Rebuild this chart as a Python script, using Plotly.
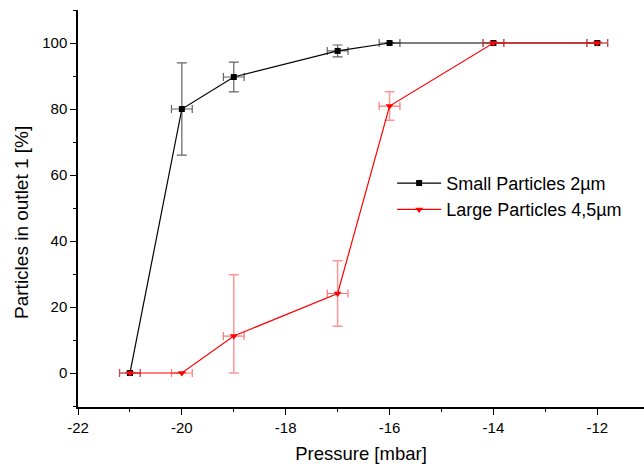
import plotly.graph_objects as go

# pressure in mbar
small_x = [-21, -20, -19, -17, -16, -14, -12]
small_y = [0, 80, 89.7, 97.6, 100, 100, 100]
small_err = [0, 14, 4.5, 1.8, 0, 0, 0]

large_x = [-21, -20, -19, -17, -16, -14, -12]
large_y = [0, 0, 11.2, 24.1, 80.9, 100, 100]
large_err_plus = [0, 0, 18.6, 9.9, 4.3, 0, 0]
large_err_minus = [0, 0, 11.2, 9.9, 4.3, 0, 0]

x_err = 0.2

x_ticks = [-22, -20, -18, -16, -14, -12]
x_ticklabels = ['-22', '-20', '-18', '-16', '-14', '-12']
y_ticks = [0, 20, 40, 60, 80, 100]

fig = go.Figure()

fig.add_trace(go.Scatter(
    name='Small Particles 2µm', x=small_x, y=small_y, mode='lines+markers',
    legendgroup='a',
    line=dict(color='black', width=1.2),
    marker=dict(symbol='square', size=6, color='black'),
    error_y=dict(type='data', array=small_err, color='rgba(60,60,60,0.8)', thickness=1.2, width=5),
    error_x=dict(type='constant', value=x_err, color='rgba(60,60,60,0.8)', thickness=1.2, width=4),
))
fig.add_trace(go.Scatter(
    name='Large Particles 4,5µm', x=large_x, y=large_y, mode='lines+markers',
    legendgroup='b',
    line=dict(color='red', width=1.2),
    marker=dict(symbol='triangle-down', size=7, color='red'),
    error_y=dict(type='data', symmetric=False, array=large_err_plus, arrayminus=large_err_minus,
                 color='rgba(255,80,80,0.6)', thickness=1.5, width=5),
    error_x=dict(type='constant', value=x_err, color='rgba(255,60,60,0.7)', thickness=1.2, width=4),
))

fig.update_layout(
    width=644, height=464,
    margin=dict(l=78, r=0, t=10, b=57),
    plot_bgcolor='white', paper_bgcolor='white',
    font=dict(family='Liberation Sans, Arial', size=15, color='black'),
    showlegend=True,
    legend=dict(x=0.555, y=0.61, xanchor='left', yanchor='top', bgcolor='rgba(0,0,0,0)',
                font=dict(size=18), tracegroupgap=2, traceorder='normal', itemwidth=44),
    # y title as annotation, it sits a bit below the middle in the original
    annotations=[dict(text='Particles in outlet 1 [%]', textangle=-90, showarrow=False,
                      xref='paper', yref='paper', x=-0.099, y=0.466,
                      xanchor='center', yanchor='middle',
                      font=dict(size=19))],
)
fig.update_xaxes(
    title=dict(text='Pressure [mbar]', font=dict(size=18.5), standoff=12),
    range=[-22, -11.1], tickvals=x_ticks, ticktext=x_ticklabels,
    showgrid=False, zeroline=False, showline=True, linecolor='black', linewidth=1.5,
    ticks='outside', ticklen=6, tickwidth=1.2, tickcolor='black',
    minor=dict(dtick=1, tick0=-21, ticks='outside', ticklen=3, tickcolor='black'),
)
fig.update_yaxes(
    range=[-10.3, 110], tickvals=y_ticks,
    showgrid=False, zeroline=False, showline=True, linecolor='black', linewidth=1.5,
    ticks='outside', ticklen=6, tickwidth=1.2, tickcolor='black',
    minor=dict(dtick=10, tick0=10, ticks='outside', ticklen=3, tickcolor='black'),
)

# drop the default 8px page margin so the figure fills the window
fig.write_html("out.html", config={'displayModeBar': False},
               post_script="document.body.style.margin='0';")
